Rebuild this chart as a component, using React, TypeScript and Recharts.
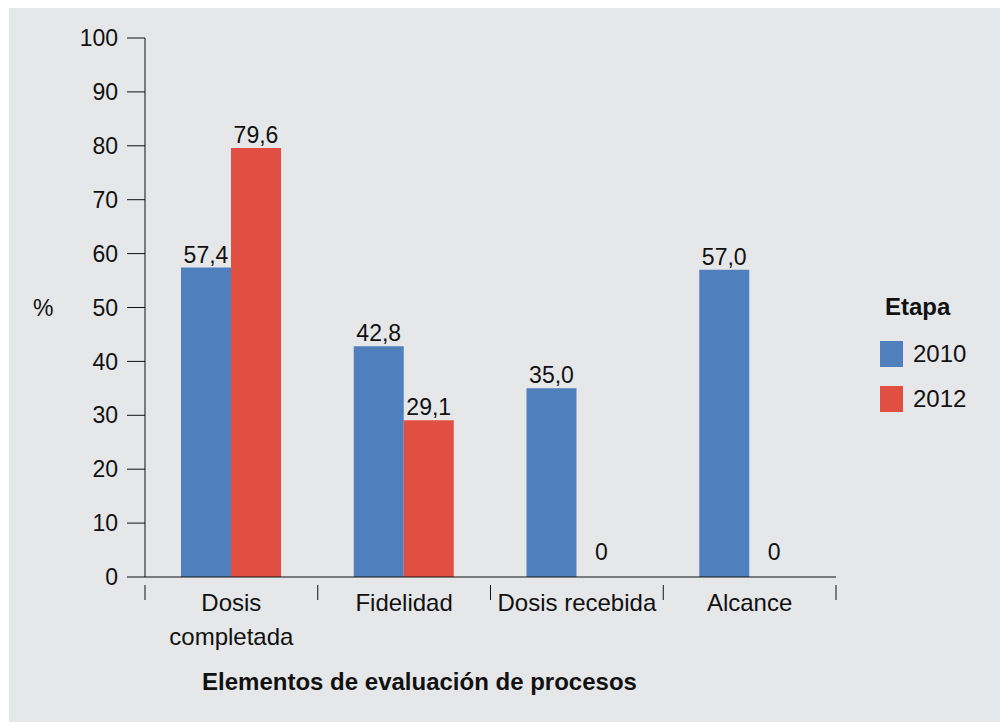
import { BarChart, Bar, XAxis, YAxis, Legend, LabelList, Text } from "recharts";

const categories = ["Dosis completada", "Fidelidad", "Dosis recebida", "Alcance"];
const values2010 = [57.4, 42.8, 35.0, 57.0];
const values2012 = [79.6, 29.1, 0, 0];
const yTicks = [0, 10, 20, 30, 40, 50, 60, 70, 80, 90, 100];
const series = [
  { key: "y2010", name: "2010", color: "#4f80bd" },
  { key: "y2012", name: "2012", color: "#e04f42" },
];

const data = categories.map((name, i) => ({
  name,
  y2010: values2010[i],
  y2012: values2012[i],
}));

const W = 999;
const H = 717;
const LEFT = 136;
const RIGHT = 172;
const LEGEND_W = 110;
const FONT = "'Liberation Sans', Arial, sans-serif";
const INK = "#111";
const band = (W - LEFT - RIGHT) / categories.length;

const fmt = (v: number) => (v === 0 ? "0" : v.toFixed(1).replace(".", ","));

const CategoryTick = (props: any) => {
  const { x, y, payload, index } = props;
  const last = index === categories.length - 1;
  return (
    <g>
      <line x1={x - band / 2} y1={y} x2={x - band / 2} y2={y + 15} stroke={INK} />
      {last && <line x1={x + band / 2} y1={y} x2={x + band / 2} y2={y + 15} stroke={INK} />}
      <Text
        x={x}
        y={y + 9}
        width={170}
        textAnchor="middle"
        verticalAnchor="start"
        lineHeight="1.4em"
        style={{ fontSize: "24px", fontFamily: FONT }}
        fill={INK}
      >
        {payload.value}
      </Text>
    </g>
  );
};

// zero-height bars get their number a little higher, like the source
const ValueLabel = (props: any) => {
  const { x, y, width, value } = props;
  const v = Number(value);
  return (
    <text
      x={x + width / 2}
      y={y - (v === 0 ? 17 : 5)}
      textAnchor="middle"
      fontSize={23}
      fontFamily={FONT}
      fill={INK}
    >
      {fmt(v)}
    </text>
  );
};

const LegendBox = () => (
  <div style={{ fontFamily: FONT, color: INK }}>
    <div style={{ fontWeight: "bold", fontSize: 24, marginLeft: 5, height: 30, lineHeight: "30px" }}>Etapa</div>
    {series.map((s) => (
      <div key={s.key} style={{ display: "flex", alignItems: "center", marginTop: 19, height: 26 }}>
        <span style={{ width: 23, height: 26, background: s.color, display: "inline-block" }} />
        <span style={{ fontSize: 24, marginLeft: 10 }}>{s.name}</span>
      </div>
    ))}
  </div>
);

export default function App() {
  return (
    <div style={{ marginTop: -3, marginLeft: 1, width: W, height: H, background: "#e6e7e9" }}>
      <BarChart
        width={W}
        height={H}
        data={data}
        margin={{ top: 33, right: RIGHT - LEGEND_W, bottom: 25, left: 0 }}
        barGap={0}
        barSize={50}
      >
        <XAxis
          dataKey="name"
          height={120}
          stroke={INK}
          tickLine={false}
          tick={<CategoryTick />}
          interval={0}
          label={{
            content: ({ viewBox }: any) => (
              <text
                x={viewBox.x + viewBox.width / 2 - 71}
                y={viewBox.y + 107}
                textAnchor="middle"
                dominantBaseline="middle"
                fontFamily={FONT}
                fontWeight="bold"
                fontSize={24}
                fill={INK}
              >
                Elementos de evaluación de procesos
              </text>
            ),
          }}
        />
        <YAxis
          width={LEFT}
          domain={[0, 100]}
          ticks={yTicks}
          interval={0}
          stroke={INK}
          tickSize={18}
          tickMargin={9}
          tick={{ fontSize: 23, fontFamily: FONT, fill: INK }}
          label={{
            value: "%",
            position: "insideLeft",
            offset: 24,
            fontSize: 23,
            fontFamily: FONT,
            fill: INK,
          }}
        />
        <Legend
          layout="vertical"
          align="right"
          verticalAlign="top"
          width={LEGEND_W}
          content={<LegendBox />}
          wrapperStyle={{ top: 287, left: 871 }}
        />
        {series.map((s) => (
          <Bar
            key={s.key}
            dataKey={s.key}
            name={s.name}
            fill={s.color}
            minPointSize={0.01}
            isAnimationActive={false}
          >
            <LabelList dataKey={s.key} content={<ValueLabel />} />
          </Bar>
        ))}
      </BarChart>
    </div>
  );
}
